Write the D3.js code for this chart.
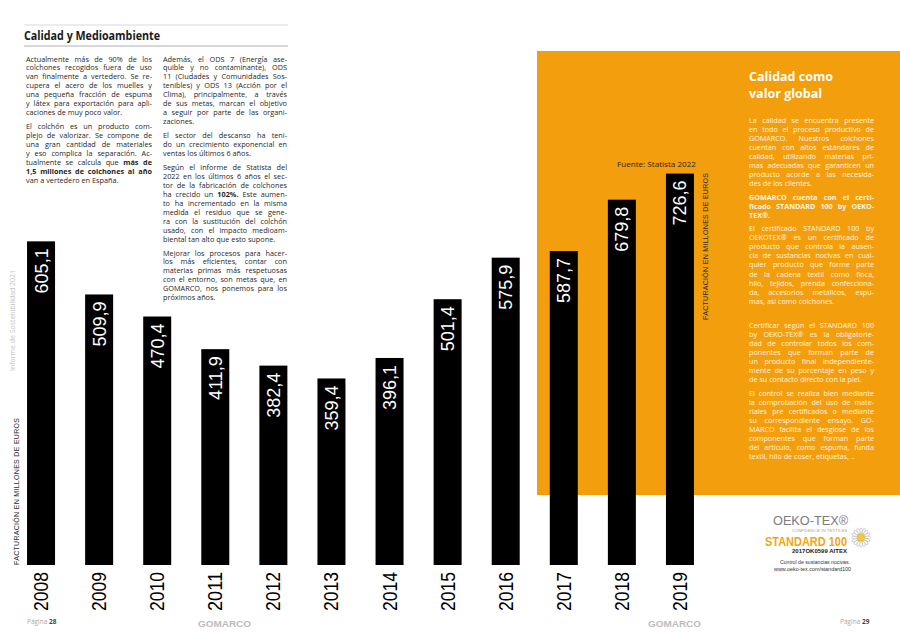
<!DOCTYPE html>
<html>
<head>
<meta charset="utf-8">
<script src="https://cdn.jsdelivr.net/npm/d3@7"></script>
<style>
body { margin: 0; background: #fff; }
svg { display: block; }
</style>
</head>
<body>
<svg id="page" width="900" height="637"></svg>
<script>
// datos del grafico (Fuente: Statista 2022)
var years = ["2008", "2009", "2010", "2011", "2012", "2013", "2014", "2015", "2016", "2017", "2018", "2019"];
var values = [605.1, 509.9, 470.4, 411.9, 382.4, 359.4, 396.1, 501.4, 575.9, 587.7, 679.8, 726.6];
var axisTitle = "FACTURACIÓN EN MILLONES DE EUROS";
var source = "Fuente: Statista 2022";

// textos de la pagina
var colLeft = [
	["Actualmente más de 90% de los", "colchones recogidos fuera de uso", "van finalmente a vertedero. Se re-", "cupera el acero de los muelles y", "una pequeña fracción de espuma", "y látex para exportación para apli-", "caciones de muy poco valor."],
	["El colchón es un producto com-", "plejo de valorizar. Se compone de", "una gran cantidad de materiales", "y eso complica la separación. Ac-", "tualmente se calcula que *más *de", "*1,5 *millones *de *colchones *al *año", "van a vertedero en España."]
];
var colRight = [
	["Además, el ODS 7 (Energía ase-", "quible y no contaminante), ODS", "11 (Ciudades y Comunidades Sos-", "tenibles) y ODS 13 (Acción por el", "Clima), principalmente, a través", "de sus metas, marcan el objetivo", "a seguir por parte de las organi-", "zaciones."],
	["El sector del descanso ha teni-", "do un crecimiento exponencial en", "ventas los últimos 6 años."],
	["Según el informe de Statista del", "2022 en los últimos 6 años el sec-", "tor de la fabricación de colchones", "ha crecido un *102%. Este aumen-", "to ha incrementado en la misma", "medida el residuo que se gene-", "ra con la sustitución del colchón", "usado, con el impacto medioam-", "biental tan alto que esto supone."],
	["Mejorar los procesos para hacer-", "los más eficientes, contar con", "materias primas más respetuosas", "con el entorno, son metas que, en", "GOMARCO, nos ponemos para los", "próximos años."]
];
var panelA = [
	["La calidad se encuentra presente", "en todo el proceso productivo de", "GOMARCO. Nuestros colchones", "cuentan con altos estándares de", "calidad, utilizando materias pri-", "mas adecuadas que garanticen un", "producto acorde a las necesida-", "des de los clientes."],
	["*GOMARCO *cuenta *con *el *certi-", "*ficado *STANDARD *100 *by *OEKO-", "*TEX®."],
	["El certificado STANDARD 100 by", "OEKOTEX® es un certificado de", "producto que controla la ausen-", "cia de sustancias nocivas en cual-", "quier producto que forme parte", "de la cadena textil como floca,", "hilo, tejidos, prenda confecciona-", "da, accesorios metálicos, espu-", "mas, así como colchones."]
];
var panelB = [
	["Certificar según el STANDARD 100", "by OEKO-TEX® es la obligatorie-", "dad de controlar todos los com-", "ponentes que forman parte de", "un producto final independiente-", "mente de su porcentaje en peso y", "de su contacto directo con la piel."],
	["El control se realiza bien mediante", "la comprobación del uso de mate-", "riales pre certificados o mediante", "su correspondiente ensayo. GO-", "MARCO facilita el desglose de los", "componentes que forman parte", "del artículo, como espuma, funda", "textil, hilo de coser, etiquetas, .."]
];

var svg = d3.select("#page");
var bodyFont = "'Open Sans', 'Noto Sans', sans-serif";
var chartFont = "'Liberation Sans', Arial, sans-serif";
var orange = "#f39e0c";
var fmt = d3.formatLocale({decimal: ",", thousands: ".", grouping: [3], currency: ["", "€"]}).format(".1f");

// texto justificado, una linea por <text>, cada palabra en un tspan
function textBlock(g, paras, x, y0, w, o) {
	var y = y0;
	paras.forEach(function(p) {
		p.forEach(function(line, li) {
			var last = li == p.length - 1;
			var t = g.append("text")
				.attr("y", y)
				.attr("font-family", bodyFont)
				.attr("font-size", o.fs)
				.attr("fill", o.fill);
			var words = line.split(" ");
			var spans = words.map(function(wd) {
				var bold = wd[0] == "*";
				return t.append("tspan")
					.attr("font-weight", bold ? 700 : null)
					.text(bold ? wd.slice(1) : wd);
			});
			var widths = spans.map(function(s) { return s.node().getComputedTextLength(); });
			var gap = o.fs * 0.27;
			if (!last && words.length > 1) gap = (w - d3.sum(widths)) / (words.length - 1);
			var cx = x;
			spans.forEach(function(s, i) {
				s.attr("x", cx);
				cx += widths[i] + gap;
			});
			y += o.lh;
		});
		y += o.pg;
	});
}

// ---------- pagina izquierda: cabecera ----------
svg.append("line").attr("x1", 24).attr("x2", 288).attr("y1", 25).attr("y2", 25)
	.attr("stroke", "#cfcfcf").attr("stroke-width", 0.8);
svg.append("line").attr("x1", 24).attr("x2", 288).attr("y1", 46).attr("y2", 46)
	.attr("stroke", "#9a9a9a").attr("stroke-width", 0.8);
svg.append("text")
	.attr("x", 24).attr("y", 40)
	.attr("font-family", bodyFont).attr("font-weight", 700).attr("font-size", 13)
	.attr("textLength", 136).attr("lengthAdjust", "spacingAndGlyphs")
	.attr("fill", "#1a1a1a")
	.text("Calidad y Medioambiente");

var txt = svg.append("g");
textBlock(txt, colLeft, 26, 61.5, 126, {fs: 7.3, lh: 8.95, pg: 5, fill: "#1f1f1f"});
textBlock(txt, colRight, 163, 61.5, 124, {fs: 7.3, lh: 8.95, pg: 5, fill: "#1f1f1f"});

// ---------- panel naranja ----------
svg.append("rect")
	.attr("x", 537).attr("y", 51).attr("width", 363).attr("height", 444)
	.attr("fill", orange);

svg.append("text")
	.attr("font-family", bodyFont).attr("font-weight", 700).attr("font-size", 12.5)
	.attr("fill", "#fff")
	.selectAll("tspan")
	.data(["Calidad como", "valor global"])
	.join("tspan")
	.attr("x", 749)
	.attr("y", function(d, i) { return 81 + i * 16.5; })
	.text(function(d) { return d; });

var ptxt = svg.append("g");
textBlock(ptxt, panelA, 749, 122.5, 125, {fs: 7.2, lh: 9.05, pg: 4.6, fill: "#fff4e0"});
textBlock(ptxt, panelB, 749, 328, 125, {fs: 7.2, lh: 9.05, pg: 4.6, fill: "#fff4e0"});

// ---------- grafico de barras ----------
var x = d3.scalePoint()
	.domain(years)
	.range([12, 709])
	.padding(0.5);

var y = d3.scaleLinear()
	.domain([0, 800])
	.range([579, 132.6]);

var barW = 28,
	baseY = 565;

var chart = svg.append("g").attr("class", "chart");

chart.selectAll("rect.bar")
	.data(values)
	.join("rect")
	.attr("class", "bar")
	.attr("x", function(d, i) { return x(years[i]) - barW / 2; })
	.attr("y", function(d) { return y(d); })
	.attr("width", barW)
	.attr("height", function(d) { return baseY - y(d); })
	.attr("fill", "#000");

chart.selectAll("text.val")
	.data(values)
	.join("text")
	.attr("class", "val")
	.attr("transform", function(d, i) { return "translate(" + x(years[i]) + "," + (y(d) + 7) + ") rotate(-90)"; })
	.attr("dy", "0.36em")
	.attr("text-anchor", "end")
	.attr("font-family", chartFont)
	.attr("font-size", 18)
	.attr("fill", "#fff")
	.text(function(d) { return fmt(d); });

chart.selectAll("text.year")
	.data(years)
	.join("text")
	.attr("class", "year")
	.attr("transform", function(d) { return "translate(" + x(d) + ",611) rotate(-90)"; })
	.attr("dy", "0.36em")
	.attr("font-family", chartFont)
	.attr("font-size", 19.5)
	.attr("textLength", 39).attr("lengthAdjust", "spacingAndGlyphs")
	.attr("fill", "#000")
	.text(function(d) { return d; });

// titulos de eje verticales
function vLabel(cx, yBottom) {
	svg.append("text")
		.attr("transform", "translate(" + cx + "," + yBottom + ") rotate(-90)")
		.attr("dy", "0.35em")
		.attr("font-family", chartFont)
		.attr("font-size", 7)
		.attr("textLength", 147).attr("lengthAdjust", "spacing")
		.attr("fill", "#2a2a2a")
		.text(axisTitle);
}
vLabel(17, 565);
vLabel(706, 320);

svg.append("text")
	.attr("x", 617).attr("y", 166.5)
	.attr("font-family", bodyFont).attr("font-size", 7.5)
	.attr("textLength", 79).attr("lengthAdjust", "spacingAndGlyphs")
	.attr("fill", "#2e2410")
	.text(source);

svg.append("text")
	.attr("transform", "translate(13,371) rotate(-90)")
	.attr("dy", "0.35em")
	.attr("font-family", bodyFont).attr("font-size", 6.5)
	.attr("textLength", 101).attr("lengthAdjust", "spacingAndGlyphs")
	.attr("fill", "#c4c4c4")
	.text("Informe de Sostenibilidad 2021");

// ---------- logotipo OEKO-TEX ----------
var oeko = svg.append("g").attr("font-family", chartFont);
oeko.append("text").attr("x", 773).attr("y", 525).attr("font-size", 13)
	.attr("textLength", 75).attr("lengthAdjust", "spacingAndGlyphs")
	.attr("fill", "#7c7c7c").text("OEKO-TEX®");
oeko.append("text").attr("x", 792).attr("y", 532).attr("font-size", 3.8)
	.attr("textLength", 55).attr("fill", "#b09a70").text("CONFIDENCE IN TEXTILES");
oeko.append("text").attr("x", 765).attr("y", 546).attr("font-size", 13.5).attr("font-weight", 700)
	.attr("textLength", 82).attr("lengthAdjust", "spacingAndGlyphs")
	.attr("fill", "#f2a515").text("STANDARD 100");
oeko.append("text").attr("x", 792).attr("y", 553).attr("font-size", 5.4).attr("font-weight", 700)
	.attr("textLength", 55).attr("lengthAdjust", "spacingAndGlyphs")
	.attr("fill", "#222").text("2017OK0599 AITEX");
oeko.append("text").attr("x", 780).attr("y", 564).attr("font-size", 5.6)
	.attr("textLength", 70).attr("lengthAdjust", "spacingAndGlyphs")
	.attr("fill", "#333").text("Control de sustancias nocivas.");
oeko.append("text").attr("x", 774).attr("y", 570.5).attr("font-size", 5.6)
	.attr("textLength", 77).attr("lengthAdjust", "spacingAndGlyphs")
	.attr("fill", "#333").text("www.oeko-tex.com/standard100");

var flower = oeko.append("g").attr("transform", "translate(861,537.5)");
flower.selectAll("ellipse")
	.data(d3.range(16))
	.join("ellipse")
	.attr("cx", 0).attr("cy", -6.8)
	.attr("rx", 1.3).attr("ry", 2.8)
	.attr("transform", function(d) { return "rotate(" + d * 22.5 + ")"; })
	.attr("fill", "#fff").attr("stroke", "#a8a8a8").attr("stroke-width", 0.5);
flower.append("circle").attr("r", 3.8).attr("fill", "#f5c842").attr("stroke", "#d9a520").attr("stroke-width", 0.4);

// ---------- pies de pagina ----------
function pageNum(xp, n) {
	var t = svg.append("text").attr("x", xp).attr("y", 624)
		.attr("font-family", bodyFont).attr("font-size", 6.5);
	t.append("tspan").attr("fill", "#a8a8a8").text("Página ");
	t.append("tspan").attr("fill", "#444").attr("font-weight", 700).text(n);
}
pageNum(27, "28");
pageNum(840, "29");

[198, 648].forEach(function(xl) {
	svg.append("text").attr("x", xl).attr("y", 626.5)
		.attr("font-family", chartFont).attr("font-weight", 700).attr("font-size", 9)
		.attr("textLength", 53).attr("lengthAdjust", "spacingAndGlyphs")
		.attr("fill", "#bcbcbc")
		.text("GOMARCO");
});
</script>
</body>
</html>
